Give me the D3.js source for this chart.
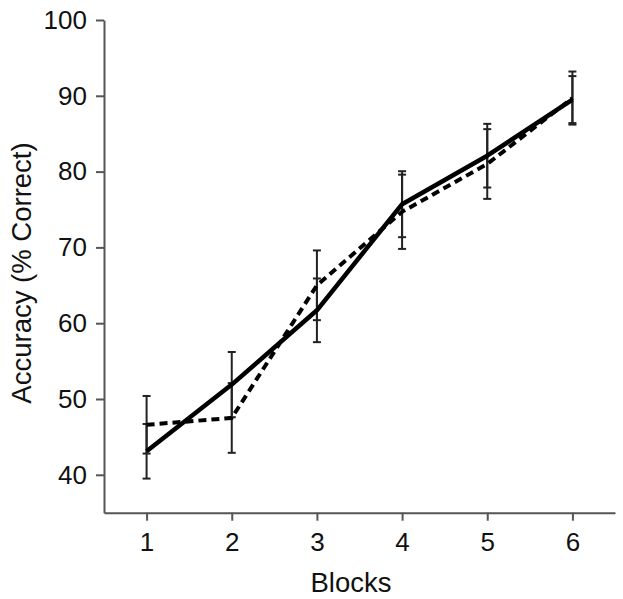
<!DOCTYPE html>
<html>
<head>
<meta charset="utf-8">
<script src="https://cdn.jsdelivr.net/npm/d3@7"></script>
<style>
  body { margin: 0; background: #fff; }
  svg { display: block; font-family: "Liberation Sans", Arial, sans-serif; }
</style>
</head>
<body>
<div id="chart"></div>
<script>
// values
const blocks = [1, 2, 3, 4, 5, 6];
const solidMean = [43.1, 51.9, 61.7, 75.7, 82.1, 89.5];
const solidErr = [3.6, 4.3, 4.2, 4.35, 4.2, 3.1];
const dashedMean = [46.6, 47.5, 65.0, 74.7, 81.0, 89.7];
const dashedErr = [3.8, 4.6, 4.6, 4.9, 4.6, 3.5];
const yTicks = [40, 50, 60, 70, 80, 90, 100];

const width = 623;
const height = 599;

const svg = d3.select("#chart")
  .append("svg")
  .attr("width", width)
  .attr("height", height);

const x = d3.scaleLinear()
  .domain([0.5, 6.5])
  .range([104, 615]);

const y = d3.scaleLinear()
  .domain([35, 100])
  .range([512.7, 20]);

const axisColor = "#555";

// y axis
const gy = svg.append("g")
  .attr("transform", `translate(${x.range()[0]},0)`)
  .call(d3.axisLeft(y)
    .tickValues(yTicks)
    .tickSize(8)
    .tickSizeOuter(0)
    .tickPadding(9));

// x axis
const gx = svg.append("g")
  .attr("transform", `translate(0,${y.range()[0]})`)
  .call(d3.axisBottom(x)
    .tickValues(blocks)
    .tickFormat(d3.format("d"))
    .tickSize(8)
    .tickSizeOuter(0)
    .tickPadding(11.5));

[gx, gy].forEach(g => {
  g.select(".domain").attr("stroke", axisColor).attr("stroke-width", 2);
  g.selectAll(".tick line").attr("stroke", axisColor).attr("stroke-width", 2);
  g.selectAll(".tick text")
    .attr("fill", "#111")
    .style("font-size", "26px")
    .style("font-family", "'Liberation Sans', Arial, sans-serif");
});

// axis titles
svg.append("text")
  .attr("x", 351)
  .attr("y", 592)
  .attr("text-anchor", "middle")
  .attr("fill", "#111")
  .style("font-size", "27.5px")
  .text("Blocks");

svg.append("text")
  .attr("transform", "rotate(-90)")
  .attr("x", -273)
  .attr("y", 31)
  .attr("text-anchor", "middle")
  .attr("fill", "#111")
  .style("font-size", "27.5px")
  .text("Accuracy (% Correct)");

const series = [
  { name: "solid", mean: solidMean, err: solidErr, dash: null, width: 4.5 },
  { name: "dashed", mean: dashedMean, err: dashedErr, dash: "8,5", width: 4 }
];

// error bars
series.forEach(s => {
  const rows = blocks.map((b, i) => ({ b, m: s.mean[i], e: s.err[i] }));
  const g = svg.append("g")
    .attr("stroke", "#222")
    .attr("stroke-width", 2);

  g.selectAll("line.bar")
    .data(rows)
    .join("line")
    .attr("class", "bar")
    .attr("x1", d => x(d.b))
    .attr("x2", d => x(d.b))
    .attr("y1", d => y(d.m - d.e))
    .attr("y2", d => y(d.m + d.e));

  g.selectAll("line.capTop")
    .data(rows)
    .join("line")
    .attr("class", "capTop")
    .attr("x1", d => x(d.b) - 4)
    .attr("x2", d => x(d.b) + 4)
    .attr("y1", d => y(d.m + d.e))
    .attr("y2", d => y(d.m + d.e));

  g.selectAll("line.capBottom")
    .data(rows)
    .join("line")
    .attr("class", "capBottom")
    .attr("x1", d => x(d.b) - 4)
    .attr("x2", d => x(d.b) + 4)
    .attr("y1", d => y(d.m - d.e))
    .attr("y2", d => y(d.m - d.e));
});

// mean lines
const line = d3.line()
  .x((d, i) => x(blocks[i]))
  .y(d => y(d));

series.slice().reverse().forEach(s => {
  svg.append("path")
    .datum(s.mean)
    .attr("fill", "none")
    .attr("stroke", "#000")
    .attr("stroke-width", s.width)
    .attr("stroke-dasharray", s.dash)
    .attr("stroke-linejoin", "round")
    .attr("d", line);
});
</script>
</body>
</html>
